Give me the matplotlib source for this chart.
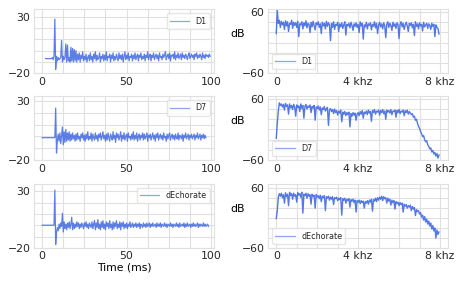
import numpy as np
import matplotlib
matplotlib.use("Agg")
import matplotlib.pyplot as plt
from matplotlib.ticker import MultipleLocator

# --- room impulse responses (value per 0.5 ms step) ---
d1_start = 2.0
d1_rir = [
    -7, -7, -7, -7, -7, -7, -7, -7, -6, -8,
    -5, 28, -16.5, -5, -9, -6, -8, -7, -6, 9,
    -10, -5, -8, -6, 6, -10, 5, -9, -6, -10,
    3, -9, 2, -10, 1, -9, 0, -10, -3, -8,
    -2, -10, -4, -7, -1, -9, -5, -8, -3, -10,
    -6, -4, -9, -2, -8, -5, -10, -3, -7, -1,
    -9, -4, -8, -6, -2, -10, -5, -7, -3, -9,
    -4, -8, -1, -9, -5, -6, -3, -10, -4, -7,
    -2, -9, -5, -8, -3, -6, -9, -2, -7, -4,
    -8, -3, -10, -5, -1, -8, -4, -7, -2, -9,
    -5, -6, -3, -9, -4, -7, -2, -8, -5, -3,
    -9, -4, -6, -2, -8, -5, -7, -3, -9, -4,
    -6, -1, -8, -5, -3, -9, -4, -6, -2, -8,
    -5, -3, -7, -4, -9, -2, -6, -5, -8, -3,
    -6, -4, -1, -8, -5, -3, -7, -2, -9, -4,
    -5, -3, -7, -1, -8, -4, -6, -2, -7, -5,
    -3, -8, -2, -6, -4, -7, -3, -5, -8, -4,
    -2, -7, -5, -3, -6, -4, -8, -3, -5, -2,
    -7, -4, -6, -3, -5, -8, -2, -6, -4, -7,
    -3, -5, -4, -6, -3, -5,
]

d7_start = 0.0
d7_rir = [
    -1, -1, -1, -1, -1, -1, -1, -1, -1, -1,
    -1, -1, -1, -1, -1, -1, 24, -14, -3, 2,
    -4, 3, -6, 1, 8, -7, 4, -5, 6, -4,
    3, -3, 4, -4, 2, -3, 3, -2, 1, -4,
    2, -3, 3, -2, 0, -4, 2, -1, 3, -3,
    1, -4, 2, -2, 4, -3, 0, -2, 3, -4,
    2, -1, -3, 3, -2, 1, -4, 2, -1, 3,
    -3, 0, 4, -2, 1, -4, 2, -3, 3, -1,
    -4, 2, 0, -3, 4, -2, 1, -5, 3, -1,
    2, -3, 0, 4, -4, 1, -2, 3, -3, 0,
    2, -4, 3, -1, 0, -3, 2, -2, 4, -3,
    1, -2, 3, -4, 0, 2, -3, 1, -1, 3,
    -3, 2, -2, 0, 3, -4, 1, -1, 2, -3,
    0, 3, -2, 1, -4, 2, -1, 3, -3, 0,
    2, -2, 1, -3, 3, -1, 0, -4, 2, -2,
    1, 3, -3, 0, 2, -2, 1, -3, 2, -1,
    -2, 3, -3, 1, 0, -2, 2, -4, 1, -1,
    3, -2, 0, 2, -3, 1, -1, 2, -2, 0,
    2, -3, 1, -1, 3, -2, 0, 2, -3, 1,
    -1, 2, -2, 1, -1,
]

dech_start = 0.0
dech_rir = [
    0, 0, 0, 0, 0, 0, 0, 0, 0, 0,
    0, 0, 0, 0, 0, 31, -17, -6, -2, -5,
    1, -3, 2, -1, 10.6, -6, 3, -3, 1, -4,
    2, -2, 3, -3, 1, 7, -4, 2, -3, 1,
    -2, 3, -1, 2, -3, 1, -2, 2, 0, -3,
    2, -1, 3, -2, 1, -3, 2, 0, -2, 3,
    -3, 1, 4, -4, 2, -2, 5, -3, 1, -4,
    3, -2, 4, -3, 1, -4, 3, -1, 2, -3,
    4, -2, 1, -4, 3, -3, 2, -1, 4, -3,
    1, -2, 3, -4, 2, -1, 3, -3, 1, -2,
    2, -3, 1, -1, 3, -2, 0, 2, -2, 1,
    -1, 2, -2, 1, -1, 2, -3, 1, 0, -2,
    2, -1, 1, -2, 2, -1, 0, 2, -2, 1,
    -1, 2, -1, 0, 1, -2, 2, -1, 1, -1,
    2, -2, 1, 0, -1, 2, -1, 1, -2, 1,
    0, -1, 2, -1, 1, -2, 1, 0, -1, 2,
    -1, 1, -2, 2, -1, 0, 1, -1, 2, -2,
    1, -1, 2, -1, 0, 1, -2, 1, -1, 2,
    -1, 1, -1, 0, 2, -2, 1, -1, 1, 0,
    -1, 2, -1, 1, -1, 0, 1, -1,
]

# --- magnitude spectra in dB (value per 0.05 kHz step) ---
d1_spec = [
    18, 64, 38, 44, 30, 42, 35, 40, 26, 43,
    33, 41, 22, 38, 36, 44, 28, 40, 34, 39,
    30, 42, 12, 37, 35, 41, 27, 39, 33, 43,
    29, 38, 36, 20, 40, 31, 42, 34, 25, 39,
    35, 41, 30, 37, 18, 40, 33, 38, 27, 42,
    32, 39, 35, 4, 38, 30, 41, 26, 36, 34,
    40, 22, 37, 31, 39, 28, 35, 41, 15, 36,
    33, 38, 29, 40, 34, 24, 37, 32, 39, 30,
    36, 20, 41, 33, 38, 7, 35, 31, 40, 27,
    37, 34, 39, 25, 36, 32, 41, 29, 38, 18,
    35, 40, 31, 37, 27, 39, 33, 10, 36, 41,
    30, 38, 34, 24, 40, 32, 37, 28, 39, 35,
    8, 36, 41, 31, 38, 26, 35, 40, 33, 22,
    38, 34, 39, 29, 36, 14, 41, 32, 37, 27,
    39, 33, 36, 23, 40, 31, 35, 38, 28, 37,
    34, 26, 38, 32, 36, 12, 35, 30, 28, 17,
]

d7_spec = [
    -17, 12, 36, 52, 47, 50, 44, 49, 38, 51,
    45, 48, 30, 50, 42, 47, 39, 49, 44, 26,
    48, 43, 46, 35, 50, 41, 47, 22, 45, 49,
    40, 46, 43, 48, 33, 45, 42, 47, 18, 44,
    41, 46, 38, 44, 29, 42, 39, 45, 36, 40,
    43, 8, 38, 41, 35, 39, 31, 40, 33, 37,
    28, 36, 32, 38, 15, 34, 30, 35, 27, 33,
    29, 34, 5, 31, 26, 33, 28, 32, 18, 30,
    33, 27, 35, 30, 37, 22, 34, 31, 36, 29,
    38, 32, 35, 16, 37, 33, 39, 30, 36, 34,
    38, 28, 37, 33, 39, 31, 36, 20, 38, 34,
    37, 32, 39, 29, 36, 35, 38, 24, 37, 33,
    39, 31, 36, 34, 38, 27, 37, 33, 38, 30,
    35, 32, 29, 31, 24, 26, 18, 20, 12, 6,
    2, -4, -8, -14, -12, -20, -24, -22, -30, -33,
    -38, -36, -44, -41, -48, -45, -52, -47, -56, -50,
]

dech_spec = [
    -1, 15, 42, 49, 44, 50, 41, 47, 30, 51,
    43, 48, 25, 52, 45, 49, 38, 50, 44, 47,
    32, 51, 46, 49, 42, 52, 10, 48, 45, 50,
    40, 49, 44, 47, 28, 48, 43, 46, 20, 47,
    42, 45, 39, 46, 33, 44, 41, 45, 15, 43,
    40, 44, 36, 42, 38, 43, 27, 41, 39, 42,
    35, 40, 37, 41, 6, 39, 36, 40, 30, 38,
    35, 39, 22, 37, 34, 38, 31, 36, 12, 35,
    32, 36, 29, 35, 31, 34, 20, 33, 30, 35,
    28, 36, 32, 38, 14, 37, 34, 40, 33, 41,
    36, 42, 38, 44, 35, 43, 39, 41, 30, 40,
    34, 38, 26, 36, 31, 35, 18, 33, 29, 32,
    25, 31, 27, 30, 12, 28, 24, 27, 20, 25,
    22, 26, 15, 23, 18, 21, 5, 17, 13, 15,
    8, 11, 2, 6, -4, 3, -8, -2, -12, -6,
    -16, -10, -22, -15, -26, -20, -40, -24, -33, -28,
]

labels = ["D1", "D7", "dEchorate"]
rirs = [(d1_start, d1_rir), (d7_start, d7_rir), (dech_start, dech_rir)]
specs = [d1_spec, d7_spec, dech_spec]
rir_step = 0.5    # ms
spec_step = 0.05  # kHz

LINE_COLOR = "#4169E1"
GRID_COLOR = "#e0e0e0"
TEXT_COLOR = "#262626"
TICK_SIZE = 7.8
LEGEND_SIZE = 5.8

plt.rcParams.update({
    "font.family": "DejaVu Sans",
    "font.size": TICK_SIZE,
    "text.color": TEXT_COLOR,
    "xtick.color": TEXT_COLOR,
    "ytick.color": TEXT_COLOR,
    "axes.edgecolor": GRID_COLOR,
    "axes.linewidth": 0.8,
})


def style_axis(ax):
    ax.grid(True, which="both", color=GRID_COLOR, lw=0.8)
    ax.set_axisbelow(True)
    ax.tick_params(which="both", length=0, pad=2.5, labelsize=TICK_SIZE)
    for s in ax.spines.values():
        s.set_color(GRID_COLOR)


def add_legend(ax, loc):
    leg = ax.legend(loc=loc, fontsize=LEGEND_SIZE, handlelength=2.4,
                    edgecolor=GRID_COLOR, labelcolor=TEXT_COLOR)
    for h in leg.get_lines():
        h.set_linewidth(0.9)
        h.set_alpha(0.6)


fig = plt.figure(figsize=(4.63, 2.83), dpi=100)
bottoms = [0.741, 0.434, 0.124]
height = 0.226
left_tops = [36.6, 34.0, 36.4]
right_tops = [65.4, 65.0, 68.6]

for row in range(3):
    # time domain
    ax = fig.add_axes([0.0734, bottoms[row], 0.389, height])
    start, vals = rirs[row]
    t = start + rir_step * np.arange(len(vals))
    ax.plot(t, vals, color=LINE_COLOR, lw=0.9, alpha=0.85, label=labels[row])
    ax.set_xlim(-4.85, 101.85)
    ax.set_ylim(-20, left_tops[row])
    ax.set_xticks([0, 50, 100])
    ax.set_yticks([-20, 30])
    ax.xaxis.set_minor_locator(MultipleLocator(12.5))
    ax.yaxis.set_minor_locator(MultipleLocator(10))
    style_axis(ax)
    add_legend(ax, "upper right")
    if row == 2:
        ax.set_xlabel("Time (ms)", fontsize=TICK_SIZE, labelpad=0.5)

    # frequency domain
    ax = fig.add_axes([0.579, bottoms[row], 0.389, height])
    vals = specs[row]
    f = spec_step * np.arange(len(vals))
    ax.plot(f, vals, color=LINE_COLOR, lw=1.0, alpha=0.9, label=labels[row])
    ax.set_xlim(-0.4, 8.4)
    ax.set_ylim(-60, right_tops[row])
    ax.set_xticks([0, 4, 8])
    ax.set_xticklabels(["0", "4 khz", "8 khz"])
    ax.set_yticks([-60, 60])
    ax.xaxis.set_minor_locator(MultipleLocator(1))
    ax.yaxis.set_minor_locator(MultipleLocator(20))
    style_axis(ax)
    add_legend(ax, "lower left")
    ax.set_ylabel("dB", rotation=0, fontsize=TICK_SIZE, va="center", ha="center")
    ax.yaxis.set_label_coords(-0.167, 0.61)

fig.savefig("out.png", dpi=100)
